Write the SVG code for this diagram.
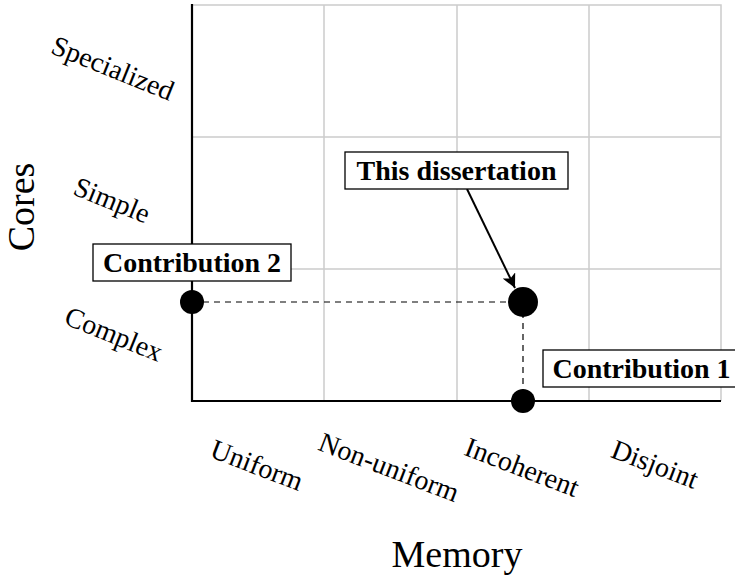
<svg xmlns="http://www.w3.org/2000/svg" width="735" height="578" viewBox="0 0 735 578">
<style>
.grid{stroke:#cccccc;stroke-width:1.5;fill:none}
.axis{stroke:#000;stroke-width:2.2;fill:none}
.dash{stroke:#000;stroke-width:1.2;stroke-dasharray:6 5;fill:none}
.lbl{font-family:"Liberation Serif","DejaVu Serif",serif;font-size:28px;fill:#000}
.ax{font-family:"Liberation Serif","DejaVu Serif",serif;font-size:38px;fill:#000}
.box rect{fill:#fff;stroke:#000;stroke-width:1.3}
.box text{font-family:"Liberation Serif","DejaVu Serif",serif;font-size:28px;font-weight:bold;fill:#000;text-anchor:middle}
.dot{fill:#000}
</style>
<defs>
<marker id="ah" viewBox="0 0 10 10" refX="10" refY="5" markerWidth="7" markerHeight="7" markerUnits="strokeWidth" orient="auto">
<path d="M0,0 L10,5 L0,10 L2.5,5 z" fill="#000"/>
</marker>
</defs>
<rect width="735" height="578" fill="#fff"/>
<g id="grid">
<path class="grid" d="M192,5 H721 V401 M324,5 V401 M457,5 V401 M589,5 V401 M192,137 H721 M192,269 H721"/>
</g>
<g id="axes">
<path class="axis" d="M192,4 V401 H721"/>
</g>
<g id="row-labels" class="lbl" text-anchor="middle">
<text transform="translate(113,68) rotate(22)" dominant-baseline="central">Specialized</text>
<text transform="translate(112,200) rotate(22)" dominant-baseline="central">Simple</text>
<text transform="translate(114,334) rotate(22)" dominant-baseline="central">Complex</text>
</g>
<g id="col-labels" class="lbl" text-anchor="middle">
<text transform="translate(257,465) rotate(21)" dominant-baseline="central">Uniform</text>
<text transform="translate(389,467) rotate(21)" dominant-baseline="central">Non-uniform</text>
<text transform="translate(522,467) rotate(21)" dominant-baseline="central">Incoherent</text>
<text transform="translate(655,464) rotate(21)" dominant-baseline="central">Disjoint</text>
</g>
<g id="axis-labels" class="ax" text-anchor="middle">
<text transform="translate(34,207) rotate(-90)">Cores</text>
<text x="457" y="567">Memory</text>
</g>
<g id="connectors">
<path class="dash" d="M192,302 H523 V401"/>
<line x1="467" y1="189" x2="515" y2="288" stroke="#000" stroke-width="2" marker-end="url(#ah)"/>
</g>
<g id="dot-c2"><circle class="dot" cx="192" cy="302" r="12"/></g>
<g id="dot-diss"><circle class="dot" cx="523" cy="302" r="15"/></g>
<g id="dot-c1"><circle class="dot" cx="523" cy="401" r="12"/></g>
<g id="box-c2" class="box">
<rect x="93" y="244" width="198" height="37"/>
<text x="192" y="272">Contribution 2</text>
</g>
<g id="box-diss" class="box">
<rect x="345" y="152" width="223" height="37"/>
<text x="456.5" y="180">This dissertation</text>
</g>
<g id="box-c1" class="box">
<rect x="543" y="350" width="197" height="37"/>
<text x="641.5" y="378">Contribution 1</text>
</g>
</svg>
